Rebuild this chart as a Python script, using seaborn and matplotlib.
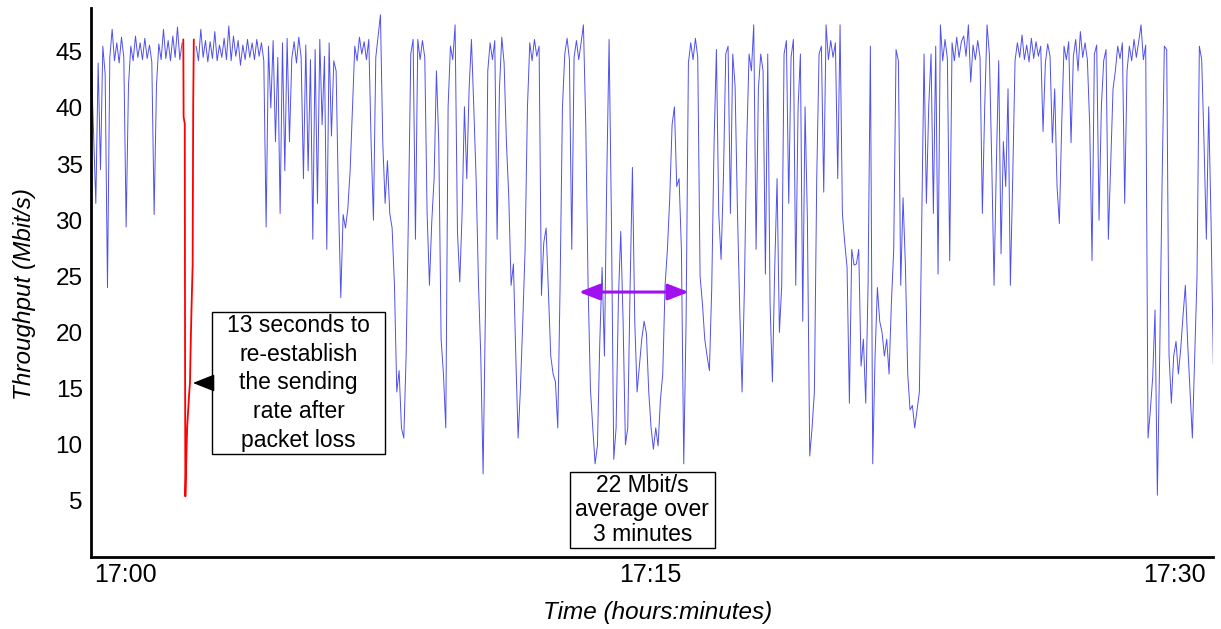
import numpy as np
import pandas as pd
import matplotlib
matplotlib.use("Agg")
import matplotlib.pyplot as plt
import seaborn as sns
from matplotlib.patches import Rectangle

# ---------------- data ----------------
# throughput samples (Mbit/s), one every 4 s, starting 58 s before 17:00
start_s = -58
step_s = 4
nan = float("nan")
throughput = [
    44.5, 38, 31.5, 44, 34.5, 45.5, 43, 24, 44.5, 47,
    44.2, 45.8, 44, 46.3, 44.5, 29.4, 42, 45.5, 44.2, 46.4,
    44.5, 45.8, 44.3, 46.2, 44.4, 45.6, 44.1, 30.5, 42, 45.7,
    44.3, 47, 44.4, 46, 44.2, 46.4, 44.5, 47.2, 44.3, 45.8,
    nan, nan, nan, nan, nan, 45.5, 44.2, 47, 44.5, 46,
    44.1, 45.9, 44.4, 46.8, 44.2, 45.6, 44.5, 46.2, 44.3, 47.3,
    44.2, 46.4, 44.6, 46, 43.8, 45.6, 44.3, 46.1, 44.5, 45.8,
    44.3, 46.1, 44.6, 45.8, 44.2, 29.4, 45.5, 40, 46, 37,
    44.5, 30.6, 45.8, 34.4, 46.2, 37, 44.4, 45.9, 44, 46.3,
    44.5, 33.7, 45.6, 34.4, 44.3, 28.3, 45.2, 31.5, 46.1, 38.5,
    44.6, 27.4, 45.8, 37.5, 44.2, 43.3, 31.8, 23.1, 30.5, 29.3,
    31, 34.4, 40, 45.5, 44.2, 46.3, 44.8, 45.9, 44.3, 46.1,
    36.9, 30, 44.5, 46.4, 48.3, 36.9, 31.5, 35.3, 30.6, 29.3,
    24.2, 14.7, 16.6, 11.5, 10.6, 17.9, 30.6, 44.8, 46.1, 28.3,
    46.1, 44.3, 46, 44.5, 30.6, 24.2, 29.9, 33.7, 43.3, 36.9,
    19.4, 16.3, 11.5, 40.1, 45.5, 44.3, 47.4, 29, 24.5, 30.6,
    40.1, 33.7, 41.7, 46.1, 40.1, 33.7, 24.5, 17.9, 7.4, 22,
    43.3, 45.8, 44.3, 46, 28.3, 41.7, 46.3, 44, 36.9, 32.1,
    24.2, 26.1, 18, 10.6, 15, 21, 27.4, 40, 45.8, 44.2,
    46.1, 44.6, 45.5, 23.3, 28, 29.3, 23.6, 17.9, 16.3, 15.6,
    11.5, 24.2, 40, 44.8, 46.2, 44.3, 27.4, 44.5, 46, 44.3,
    45.8, 47.4, 38.5, 24.2, 15, 11.5, 8.3, 9.9, 19, 25.8,
    17.9, 33.7, 46.1, 30, 8.7, 11.5, 23, 29, 21, 10,
    11.5, 24, 34.7, 21, 14.7, 17, 19.4, 21, 19.9, 14.7,
    11.5, 9.6, 11.5, 9.9, 14, 16.3, 24.2, 27.4, 32, 38.5,
    40.1, 33, 33.7, 27.4, 8.3, 21, 44, 45.8, 44.3, 46.2,
    44.5, 25, 22.6, 19.4, 17.9, 16.6, 24, 36.9, 45.2, 30.6,
    26.5, 33.7, 44.8, 45.5, 30.6, 44.8, 42, 31, 22, 14.7,
    24, 36.9, 44.8, 43.3, 47.4, 27.4, 41.7, 44.8, 43.3, 25.2,
    44.8, 22.6, 15.6, 25.8, 33.7, 20, 24.2, 44.8, 46, 31.5,
    44.5, 46.1, 24.2, 40, 44.8, 21, 40.1, 30, 9, 11.5,
    14.7, 33.7, 44.8, 45.5, 32.5, 47.4, 44.3, 46, 44.5, 45.8,
    33.7, 47.4, 30.6, 28, 25.8, 13.7, 27.4, 26, 26.1, 27.4,
    17, 19.4, 13.7, 24.2, 45.5, 8.3, 17.9, 24, 21, 20,
    17.9, 19.4, 16.3, 22.6, 27.4, 45.2, 44.2, 24.2, 32, 26,
    16.3, 13.1, 13.5, 11.5, 13.1, 14.7, 30, 44.8, 31.5, 40.1,
    44.8, 30.6, 45.5, 25.2, 47.4, 44.2, 46.1, 44.4, 26.4, 45.8,
    44.2, 46.3, 44.5, 45.9, 46.4, 44.6, 47.4, 42.3, 45.6, 44.3,
    46, 44.5, 30.6, 40.1, 47.4, 44.8, 35.3, 24.2, 35, 44.2,
    27, 37, 33, 41.7, 24.2, 33.7, 44.2, 45.8, 44.5, 46.5,
    44.3, 45.6, 44.1, 46.2, 44.4, 45.9, 44.6, 45.5, 37.9, 44,
    45.7, 44.6, 36.9, 41.7, 33, 29.7, 38.5, 45.5, 44.3, 45.9,
    36.9, 44.6, 46.1, 43.3, 46.8, 44.5, 45.8, 44.3, 38.5, 26.4,
    44.8, 45.6, 30, 40.1, 44.2, 45.2, 28.3, 35, 41.7, 43.3,
    45.5, 44.4, 45.8, 31.5, 43.3, 45.5, 44.2, 46.1, 44.5, 45.9,
    47.4, 44.3, 45.6, 10.6, 13.1, 16, 22, 5.5, 17.9, 33,
    45.5, 45.2, 18, 13.7, 17.9, 19.2, 16.3, 18.5, 21.5, 24.2,
    19, 14.7, 10.6, 17.9, 25, 45.5, 44.3, 36.9, 28.3, 40.1,
    30, 17.2,
]

# packet-loss episode (seconds after 17:00, Mbit/s)
loss_t_s = [100, 100.5, 102.5, 103, 103.5, 105, 106.5, 108.5, 110, 111.5,
            112.5, 114, 116, 117, 118]
loss_thr = [46.1, 39.2, 38.6, 18.5, 5.4, 8.5, 11.5, 13.2, 14.5, 15.6,
            18.5, 22, 26, 40.5, 46.1]

tick_minutes = [0, 15, 30]
tick_labels = ["17:00", "17:15", "17:30"]
y_ticks = [5, 10, 15, 20, 25, 30, 35, 40, 45]

# ---------------- build frames ----------------
t_min = (start_s + step_s * np.arange(len(throughput))) / 60.0
df = pd.DataFrame({"t": t_min, "v": throughput})
df["seg"] = df["v"].isna().cumsum()
df = df.dropna()

loss_df = pd.DataFrame({"t": np.array(loss_t_s) / 60.0, "v": loss_thr})

# ---------------- figure ----------------
sns.set_style("white")
plt.rcParams["font.family"] = ["Liberation Sans", "DejaVu Sans"]
plt.rcParams["text.color"] = "black"
plt.rcParams["axes.labelcolor"] = "black"
plt.rcParams["xtick.color"] = "black"
plt.rcParams["ytick.color"] = "black"

W, H = 1221, 629
fig = plt.figure(figsize=(W / 100, H / 100), dpi=100)
ax = fig.add_axes([91 / W, 1 - 557 / H, (1213 - 91) / W, (557 - 8) / H])

sns.lineplot(data=df, x="t", y="v", units="seg", estimator=None,
             color="#2424e8", lw=0.7, alpha=0.8, ax=ax, legend=False)
sns.lineplot(data=loss_df, x="t", y="v", estimator=None, sort=False,
             color="#ff0000", lw=1.3, ax=ax, legend=False)

ax.set_xlim(-0.971, 31.09)
ax.set_ylim(0, 48.9)
ax.set_xticks(tick_minutes)
ax.set_xticklabels(tick_labels)
ax.set_yticks(y_ticks)
ax.set_xlabel("")
ax.set_ylabel("")
ax.tick_params(axis="y", direction="in", length=12.5, width=1.8,
               labelsize=17.5, pad=6, colors="black")
ax.tick_params(axis="x", length=0, labelsize=18, pad=4, colors="black")
sns.despine(ax=ax)
for s in ["left", "bottom"]:
    ax.spines[s].set_linewidth(2.0)
    ax.spines[s].set_color("black")

fig.text(25 / W, 1 - 294 / H, "Throughput (Mbit/s)", rotation=90,
         ha="center", va="center", style="italic", fontsize=17.5, color="black")
fig.text(658 / W, 1 - 612 / H, "Time (hours:minutes)",
         ha="center", va="center", style="italic", fontsize=17.5, color="black")

# annotation 1
ax.add_patch(Rectangle((2.486, 9.2), 7.429 - 2.486, 21.8 - 9.2,
                       facecolor="white", edgecolor="black", lw=1.0, zorder=5))
ax.text(4.957, 15.5, "13 seconds to\nre-establish\nthe sending\nrate after\npacket loss",
        ha="center", va="center", fontsize=16.5, linespacing=1.33,
        color="black", zorder=6)
ax.annotate("", xy=(1.943, 15.5), xytext=(2.486, 15.5),
            arrowprops=dict(arrowstyle="-|>,head_length=0.75,head_width=0.3",
                            mutation_scale=18, color="black", lw=1,
                            shrinkA=0, shrinkB=0), zorder=6)

# annotation 2
ax.add_patch(Rectangle((12.714, 0.82), 16.857 - 12.714, 7.6 - 0.82,
                       facecolor="white", edgecolor="black", lw=1.0, zorder=5))
ax.text(14.786, 4.2, "22 Mbit/s\naverage over\n3 minutes",
        ha="center", va="center", fontsize=16.5, linespacing=1.09,
        color="black", zorder=6)

# 3-minute span arrow
ax.annotate("", xy=(16.11, 23.6), xytext=(12.97, 23.6),
            arrowprops=dict(arrowstyle="<|-|>,head_length=0.9,head_width=0.35",
                            mutation_scale=14, color="#a010f0", lw=2.2,
                            shrinkA=0, shrinkB=0), zorder=6)

fig.savefig("out.png", dpi=100)
